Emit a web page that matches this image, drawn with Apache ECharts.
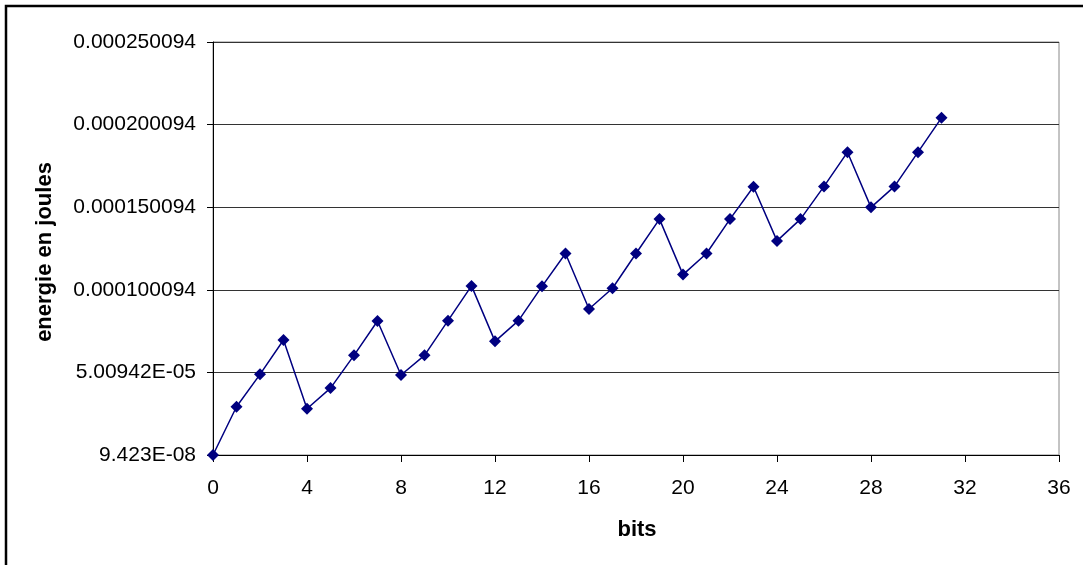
<!DOCTYPE html>
<html>
<head>
<meta charset="utf-8">
<script src="https://cdn.jsdelivr.net/npm/echarts@6/dist/echarts.min.js"></script>
<style>html,body{margin:0;padding:0;background:#fff}#c{width:1083px;height:565px}</style>
</head>
<body>
<div id="c"></div>
<script>
var bits = [0,1,2,3,4,5,6,7,8,9,10,11,12,13,14,15,16,17,18,19,20,21,22,23,24,25,26,27,28,29,30,31];
var energie = [9.423e-8, 2.93e-5, 4.89e-5, 6.97e-5, 2.81e-5, 4.06e-5, 6.04e-5, 8.12e-5,
  4.85e-5, 6.04e-5, 8.14e-5, 1.0245e-4, 6.89e-5, 8.14e-5, 1.022e-4, 1.2204e-4,
  8.85e-5, 1.0106e-4, 1.2204e-4, 1.429e-4, 1.093e-4, 1.2204e-4, 1.429e-4, 1.625e-4,
  1.297e-4, 1.429e-4, 1.627e-4, 1.834e-4, 1.5e-4, 1.627e-4, 1.834e-4, 2.042e-4];
var yTickLabels = ['9.423E-08','5.00942E-05','0.000100094','0.000150094','0.000200094','0.000250094'];
var yMin = 9.423e-8, yStep = 5e-5, yMax = 0.000250094;
var xMin = 0, xMax = 36, xStep = 4;
var xTitle = 'bits', yTitle = 'energie en joules';

var chart = echarts.init(document.getElementById('c'), null, {renderer:'canvas'});
var font = 'Liberation Sans, Arial, sans-serif';
chart.setOption({
  animation: false,
  backgroundColor: '#fff',
  grid: {left: 213, right: 24, top: 42, bottom: 110, show: true, borderColor: '#888', borderWidth: 1, backgroundColor: 'transparent'},
  graphic: [
    {type:'rect', shape:{x:6, y:6, width:1200, height:700}, style:{fill:'none', stroke:'#000', lineWidth:2.5}, z:100},
    {type:'text', x:45, y:252, rotation:Math.PI/2, style:{text:yTitle, font:'bold 22px ' + font, fill:'#000', align:'center', verticalAlign:'middle'}},
    {type:'text', x:637, y:530, style:{text:xTitle, font:'bold 22px ' + font, fill:'#000', align:'center', verticalAlign:'middle'}}
  ],
  xAxis: {
    type:'value', min:xMin, max:xMax, interval:xStep,
    axisLine:{show:true, onZero:false, lineStyle:{color:'#000', width:1}},
    axisTick:{show:true, inside:false, length:7, lineStyle:{color:'#000'}},
    axisLabel:{color:'#000', fontSize:21, fontFamily:font, margin:23},
    splitLine:{show:false}
  },
  yAxis: {
    type:'value', min:yMin, max:yMax, interval:yStep,
    axisLine:{show:true, lineStyle:{color:'#000', width:1}},
    axisTick:{show:true, inside:false, length:6, lineStyle:{color:'#000'}},
    axisLabel:{color:'#000', fontSize:21, fontFamily:font, margin:17,
      formatter:function(v){var i=Math.round((v-yMin)/yStep); return yTickLabels[i]!==undefined?yTickLabels[i]:'';}},
    splitLine:{show:true, lineStyle:{color:'#333', width:1}}
  },
  series: [{
    type:'line',
    data: bits.map(function(b,i){return [b, energie[i]];}),
    symbol:'diamond', symbolSize:[12,12],
    lineStyle:{color:'#000080', width:1.5},
    itemStyle:{color:'#000080'},
    z:5
  }]
});
</script>
</body>
</html>
